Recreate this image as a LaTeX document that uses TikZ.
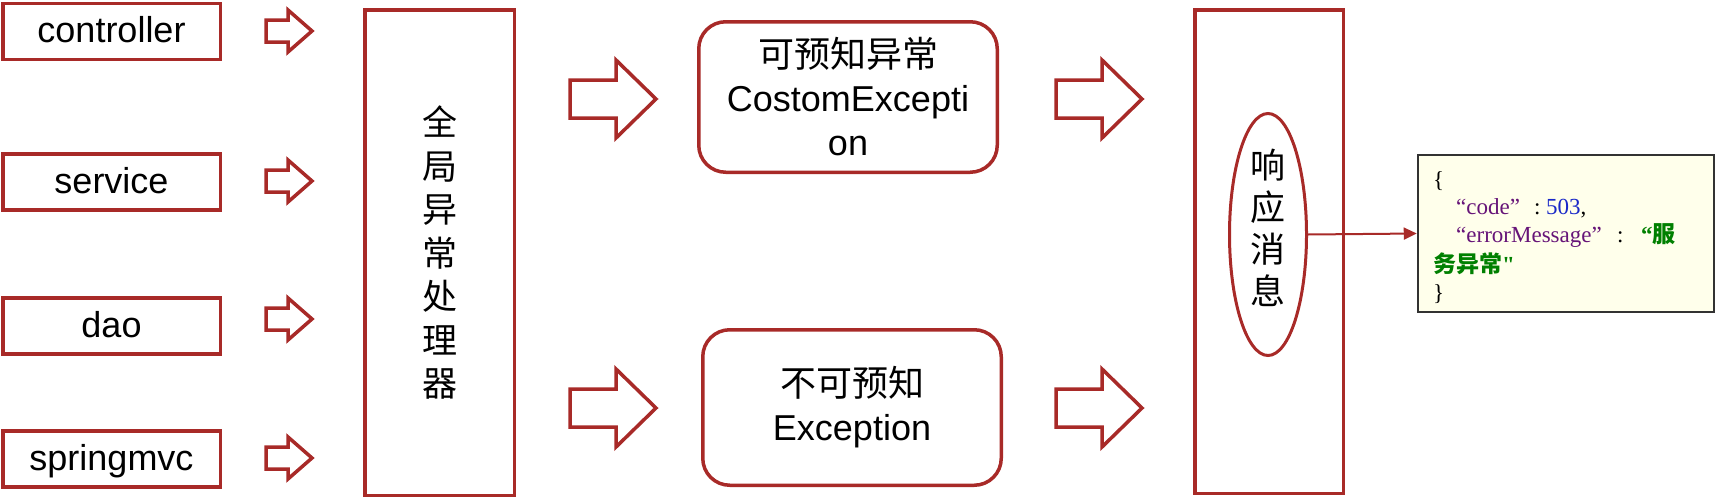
\documentclass[tikz,border=0pt]{standalone}
\usepackage{fontspec}
\setmainfont{Liberation Sans}
\newfontfamily\cjk{Noto Sans CJK SC}
\newfontfamily\jserif{Liberation Serif}
\usetikzlibrary{arrows.meta,shapes.geometric}
\definecolor{myred}{RGB}{168,42,40}
\definecolor{jpurple}{RGB}{102,20,120}
\definecolor{jblue}{RGB}{25,40,200}
\definecolor{jgreen}{RGB}{0,128,0}
\definecolor{jfill}{RGB}{255,255,235}
\definecolor{jborder}{RGB}{50,50,50}
\tikzset{
  redline/.style={draw=myred, line width=3.5pt},
  srcbox/.style={redline, rectangle, minimum width=217.5pt, minimum height=56pt, inner sep=0pt,
     font=\fontsize{36}{40}\selectfont, text height=25pt, text depth=3pt},
  tallbox/.style={redline, rectangle, inner sep=0pt},
  roundbox/.style={redline, rectangle, rounded corners=27pt, minimum width=298.5pt, inner sep=0pt,
     align=center, font=\fontsize{36}{44}\selectfont},
  vtext/.style={align=center, inner sep=0pt, font=\cjk\fontsize{35}{43.5}\selectfont},
  blk/.style={redline, line join=miter, fill=white},
  pics/smallarrow/.style={code={\draw[blk] (0,-11) -- (22,-11) -- (22,-21) -- (46,0) -- (22,21) -- (22,11) -- (0,11) -- cycle;}},
  pics/bigarrow/.style={code={\draw[blk] (0,-19) -- (46,-19) -- (46,-39) -- (86,0) -- (46,39) -- (46,19) -- (0,19) -- cycle;}},
  jtext/.style={inner sep=0pt, anchor=base west, font=\jserif\fontsize{23}{23}\selectfont},
}
\begin{document}
\begin{tikzpicture}[x=1pt,y=-1pt]
\useasboundingbox (0,0) rectangle (1718,498);

% source boxes
\node[srcbox] (ctrl) at (111.5,31.5) {controller};
\node[srcbox] (serv) at (111.5,182) {service};
\node[srcbox] (dao) at (111.5,326) {dao};
\node[srcbox] (mvc) at (111.5,459) {springmvc};

% small arrows
\pic at (266,31) {smallarrow};
\pic at (266,181) {smallarrow};
\pic at (266,319) {smallarrow};
\pic at (266,458) {smallarrow};

% global handler
\node[tallbox, minimum width=149.5pt, minimum height=485.5pt] (handler) at (439.5,252.5) {};
\node[vtext] (handlertext) at (439.5,253) {全\\局\\异\\常\\处\\理\\器};

% middle arrows
\pic at (570,99) {bigarrow};
\pic at (570,408) {bigarrow};

% exception boxes
\node[roundbox, minimum height=150.5pt] (known) at (848,97) {{\cjk 可预知异常}\\CostomExcepti\\on};
\node[roundbox, minimum height=155.5pt] (unknown) at (852,407.5) {{\cjk 不可预知}\\Exception};

% right arrows
\pic at (1056,99) {bigarrow};
\pic at (1056,408) {bigarrow};

% response
\node[tallbox, minimum width=148.5pt, minimum height=483.5pt] (resp) at (1269,251.5) {};
\node[ellipse, draw=myred, line width=3pt, minimum width=77pt, minimum height=242pt, inner sep=0pt] (ell) at (1268,234.5) {};
\node[vtext, font=\cjk\fontsize{35}{42}\selectfont] (resptext) at (1268,228) {响\\应\\消\\息};

% json box
\node[draw=jborder, line width=2.5pt, fill=jfill, minimum width=296pt, minimum height=157pt, inner sep=0pt] (json) at (1566,233.5) {};
\draw[draw=myred, line width=2pt, -{Triangle[length=13pt,width=12pt]}] (ell.east) -- (json.west);

\node[jtext] (j1) at (1433,187) {\{};
\node[jtext, text=jpurple] (j2) at (1456,214) {“code”};
\node[jtext] (j3) at (1534,214) {:};
\node[jtext, text=jblue] (j4) at (1546,214) {503\textcolor{black}{,}};
\node[jtext, text=jpurple] (j5) at (1456,242) {“errorMessage”};
\node[jtext] (j6) at (1617,242) {:};
\node[jtext, text=jgreen] (j7) at (1641,242) {\textbf{“}{\cjk\bfseries 服}};
\node[jtext, text=jgreen] (j8) at (1433,272) {{\cjk\bfseries 务异常}\textbf{"}};
\node[jtext] (j9) at (1433,300) {\}};
\end{tikzpicture}
\end{document}
